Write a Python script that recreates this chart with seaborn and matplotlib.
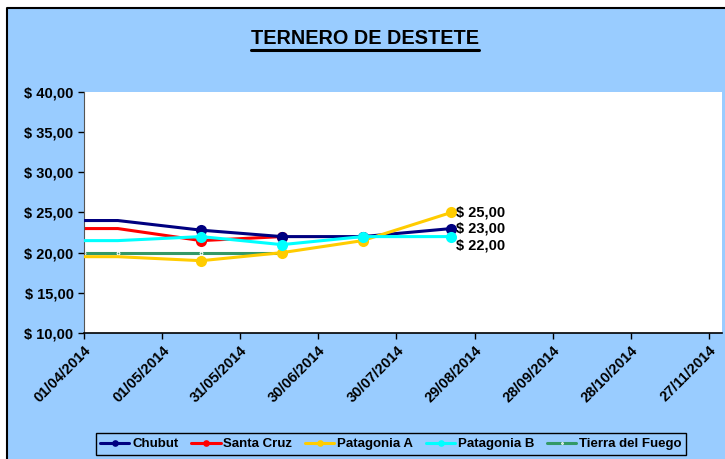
import pandas as pd
import matplotlib.pyplot as plt
import matplotlib.dates as mdates
from matplotlib.patches import Rectangle
from matplotlib.lines import Line2D
import seaborn as sns

# data
fechas_largas = ["2014-04-01", "2014-04-14", "2014-05-16", "2014-06-16", "2014-07-17", "2014-08-20"]
fechas_cortas = ["2014-04-01", "2014-04-14", "2014-05-16", "2014-06-16"]

chubut = [24.0, 24.0, 22.8, 22.0, 22.0, 23.0]
santa_cruz = [23.0, 23.0, 21.5, 22.0]
patagonia_a = [19.5, 19.5, 19.0, 20.0, 21.5, 25.0]
patagonia_b = [21.5, 21.5, 22.0, 21.0, 22.0, 22.0]
tierra_del_fuego = [20.0, 20.0, 20.0, 20.0]

tick_fechas = pd.date_range("2014-04-01", periods=9, freq="30D")
etiquetas_finales = [("$ 25,00", 25.0), ("$ 23,00", 23.0), ("$ 22,00", 20.9)]

series = [
    ("Chubut", fechas_largas, chubut, "#000080", 3),
    ("Santa Cruz", fechas_cortas, santa_cruz, "#FF0000", 2),
    ("Patagonia A", fechas_largas, patagonia_a, "#FFCC00", 4),
    ("Patagonia B", fechas_largas, patagonia_b, "#00FFFF", 5),
    ("Tierra del Fuego", fechas_cortas, tierra_del_fuego, "#339966", 1),
]

sns.set_style("white")
plt.rcParams["font.family"] = ["Liberation Sans", "DejaVu Sans"]
plt.rcParams["font.weight"] = "bold"
for k in ["text.color", "xtick.color", "ytick.color", "axes.labelcolor"]:
    plt.rcParams[k] = "black"

fig = plt.figure(figsize=(7.25, 4.59), dpi=100)
fig.patch.set_facecolor("white")
fondo = "#99CCFF"
fig.add_artist(Rectangle((7 / 725, 0), 1, 1 - 8 / 459, transform=fig.transFigure,
                         facecolor=fondo, edgecolor="none", zorder=0))
fig.add_artist(Line2D([7 / 725, 7 / 725, 1], [0, 1 - 8 / 459, 1 - 8 / 459],
                      transform=fig.transFigure, color="black", linewidth=1.5))

ax = fig.add_axes([84 / 725, 1 - 333 / 459, (722 - 84) / 725, (333 - 92) / 459])
ax.set_facecolor("white")

for nombre, fechas, valores, color, z in series:
    d = pd.DataFrame({"fecha": pd.to_datetime(fechas), "valor": valores})
    if nombre == "Tierra del Fuego":
        sns.lineplot(data=d, x="fecha", y="valor", color=color, linewidth=2.2, marker="o",
                     markersize=2, label=nombre, ax=ax, zorder=z)
    else:
        sns.lineplot(data=d, x="fecha", y="valor", color=color, linewidth=2.2, marker="o",
                     markersize=8, markeredgewidth=0, markevery=list(range(2, len(valores))),
                     label=nombre, ax=ax, zorder=z)

for texto, y in etiquetas_finales:
    ax.text(pd.Timestamp("2014-08-22"), y, texto, fontsize=10.5, fontweight="bold",
            color="black", va="center", ha="left", zorder=6)

ax.set_ylim(10, 40)
ax.set_yticks([10, 15, 20, 25, 30, 35, 40])
ax.set_yticklabels([f"$ {v},00" for v in [10, 15, 20, 25, 30, 35, 40]])
ax.set_xlim(pd.Timestamp("2014-04-01"), pd.Timestamp("2014-12-02"))
ax.set_xticks(tick_fechas)
ax.xaxis.set_major_formatter(mdates.DateFormatter("%d/%m/%Y"))
ax.tick_params(axis="both", which="major", length=4, width=1, direction="out",
               colors="black", left=True, bottom=True)
ax.tick_params(axis="x", labelsize=10.5)
ax.tick_params(axis="y", labelsize=10.5)
for lab in ax.get_xticklabels():
    lab.set_rotation(45)
    lab.set_ha("right")
    lab.set_rotation_mode("anchor")
    lab.set_fontweight("bold")
for lab in ax.get_yticklabels():
    lab.set_fontweight("bold")
ax.set_xlabel("")
ax.set_ylabel("")
for s in ["top", "right"]:
    ax.spines[s].set_visible(False)
ax.spines["left"].set_color("#555555")
ax.spines["bottom"].set_color("black")
ax.spines["bottom"].set_linewidth(1.2)

leg = ax.legend(loc="center", bbox_to_anchor=(391 / 725, 1 - 444 / 459), bbox_transform=fig.transFigure,
                ncol=5, frameon=True, fancybox=False, fontsize=9.5, markerscale=0.6,
                handlelength=2.2, handletextpad=0.2, columnspacing=1.0, borderpad=0.35)
leg.get_frame().set_edgecolor("black")
leg.get_frame().set_facecolor(fondo)
leg.get_frame().set_alpha(1)
leg.get_frame().set_linewidth(1)
for t in leg.get_texts():
    t.set_fontweight("bold")

titulo = fig.text(0.503, 1 - 38 / 459, "TERNERO DE DESTETE", ha="center", va="center",
                  fontsize=14.3, fontweight="heavy", color="black")
fig.canvas.draw()
bb = titulo.get_window_extent(fig.canvas.get_renderer())
y_sub = (bb.y0 - 2) / fig.bbox.height
fig.add_artist(Line2D([bb.x0 / fig.bbox.width, bb.x1 / fig.bbox.width], [y_sub, y_sub],
                      transform=fig.transFigure, color="black", linewidth=2.2))

fig.savefig("out.png", dpi=100)
